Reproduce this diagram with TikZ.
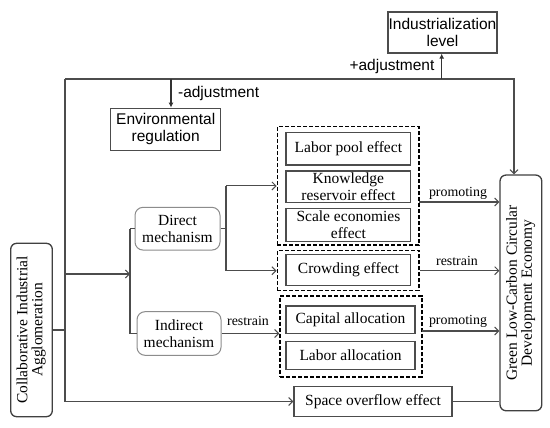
\documentclass[tikz,border=0pt]{standalone}
\usepackage{fontspec}
\setmainfont{Liberation Serif}
\newfontfamily\sansf{Liberation Sans}
\usetikzlibrary{arrows.meta}
\begin{document}
\begin{tikzpicture}[x=1pt,y=-1pt,
  line width=1.2pt,
  lc/.style={draw=black!70},
  serif/.style={font=\fontsize{15.5}{17}\selectfont, align=center, inner sep=0pt},
  sans/.style={font=\sansf\fontsize{15.5}{17.5}\selectfont, align=center, inner sep=0pt},
  small/.style={font=\fontsize{13.9}{15}\selectfont, inner sep=0pt},
  sbox/.style={serif, draw=black!70, line width=1.2pt},
  xbox/.style={sans, draw=black!70, line width=1.2pt},
  rbox/.style={serif, draw=black!45, line width=1pt, rounded corners=8pt},
  dbox/.style={draw=black, dash pattern=on 4pt off 2pt, line width=1.5pt, inner sep=0pt},
  oarr/.style={lc, -{Straight Barb[length=4pt,width=8pt,line width=1pt]}},
  farr/.style={draw=black!80, line width=1.1pt, -{Latex[length=5pt,width=5pt]}}
]
\useasboundingbox (0,0) rectangle (550,428);
\fill[white] (0,0) rectangle (550,428);

% nodes
\node[xbox, minimum width=109pt, minimum height=41pt] (ind) at (442.5,32.5) {Industrialization\\level};
\node[xbox, minimum width=110pt, minimum height=42pt] (env) at (165.7,129.2) {Environmental\\regulation};
\node[serif, draw=black!75, line width=1.3pt, rounded corners=6pt, minimum width=41.6pt, minimum height=173.4pt] (collab) at (31.5,330)
  {\rotatebox{90}{\begin{tabular}{@{}c@{}}Collaborative Industrial\\[-2pt]Agglomeration\end{tabular}}};
\node[serif, draw=black!75, line width=1.3pt, rounded corners=6pt, minimum width=41.7pt, minimum height=235.7pt] (green) at (520.9,292.9)
  {\rotatebox{90}{\begin{tabular}{@{}c@{}}Green Low-Carbon Circular\\[-2pt]Development Economy\end{tabular}}};
\node[rbox, minimum width=85pt, minimum height=42.7pt] (direct) at (177.5,228.7) {Direct\\mechanism};
\node[rbox, minimum width=84pt, minimum height=43.6pt] (indirect) at (179,333.5) {Indirect\\mechanism};

\node[dbox, minimum width=141.7pt, minimum height=118.3pt] (dash1) at (348.2,185.9) {};
\node[sbox, minimum width=124.7pt, minimum height=32.3pt] (pool) at (348.4,148.9) {Labor pool effect};
\node[sbox, minimum width=124.7pt, minimum height=31.7pt] (know) at (348.4,186.9) {Knowledge\\reservoir effect};
\node[sbox, minimum width=124.7pt, minimum height=33.4pt] (scale) at (348.4,225) {Scale economies\\effect};

\node[dbox, minimum width=141.7pt, minimum height=40pt] (dash2) at (348.2,270.7) {};
\node[sbox, minimum width=124.7pt, minimum height=31pt] (crowd) at (348.4,270.2) {Crowding effect};

\node[dbox, minimum width=141.7pt, minimum height=80.7pt] (dash3) at (350.9,336.4) {};
\node[sbox, minimum width=129pt, minimum height=27.3pt] (capital) at (350.5,319.7) {Capital allocation};
\node[sbox, minimum width=129pt, minimum height=27.6pt] (laboralloc) at (350.5,355.5) {Labor allocation};

\node[sbox, minimum width=158pt, minimum height=29.6pt] (space) at (373,401.5) {Space overflow effect};

% coordinates
\coordinate (tl) at (65,79);
\coordinate (bl) at (65,401.5);
\coordinate (tr) at (514,79);
\coordinate (ja) at (65,330);
\coordinate (jb) at (65,274);
\coordinate (vb) at (130,274);
\coordinate (vt) at (130,228.7);
\coordinate (vd) at (130,333.5);
\coordinate (da) at (226,228.7);
\coordinate (dt) at (226,185.9);
\coordinate (db) at (226,270.7);
\coordinate (ea) at (171,79);
\coordinate (ia) at (441.7,79);
\coordinate (p1) at (419,202);
\coordinate (p3) at (421.7,331);

% frame lines
\draw[lc] (collab.east) -- (ja);
\draw[lc] (tl) -- (bl);
\draw[oarr] (bl) -- (space.west);
\draw[oarr] (tl) -- (tr) -- (tr |- green.north);
\draw[farr] (ia) -- (ia |- ind.south);
\draw[farr] (ea) -- (ea |- env.north);
\node[sans, anchor=east] at (435,66) {+adjustment};
\node[sans, anchor=west] at (177.5,93) {-adjustment};

% mechanisms
\draw[oarr] (jb) -- (vb);
\draw[lc] (vt) -- (vd);
\draw[lc] (vt) -- (direct.west);
\draw[lc] (vd) -- (indirect.west);
\draw[lc] (direct.east) -- (da);
\draw[lc] (dt) -- (db);
\draw[oarr] (dt) -- (dash1.west);
\draw[oarr] (db) -- (db -| dash2.west);
\draw[oarr] (indirect.east) -- (indirect.east -| dash3.west);
\node[small] at (248,321) {restrain};

% effects to economy
\draw[oarr] (p1) -- (p1 -| green.west);
\node[small] at (458,193) {promoting};
\draw[oarr] (dash2.east) -- (dash2.east -| green.west);
\node[small] at (457,261) {restrain};
\draw[oarr] (p3) -- (p3 -| green.west);
\node[small] at (458,321) {promoting};
\draw[lc] (space.east) -- (space.east -| green.west);
\end{tikzpicture}
\end{document}
